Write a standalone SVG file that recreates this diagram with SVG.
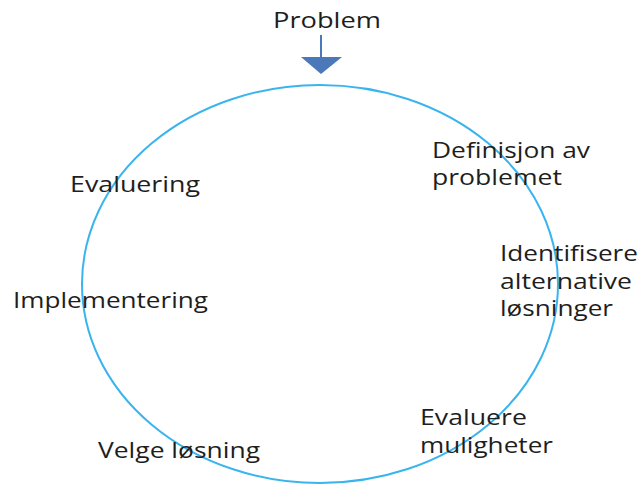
<svg xmlns="http://www.w3.org/2000/svg" width="641" height="487" viewBox="0 0 641 487">
<style>
text{font-family:"Open Sans","Liberation Sans",sans-serif;font-size:21px;fill:#1e1e1e}
.c{fill:none;stroke:#3ab4ee;stroke-width:2}
</style>
<rect width="641" height="487" fill="#fff"/>
<g id="connectors">
<line x1="321" y1="35" x2="321" y2="58" stroke="#4a78b8" stroke-width="2"/>
<polygon points="301,57 342,57 321,74" fill="#4a78b8"/>
</g>
<g id="cycle"><ellipse class="c" cx="320" cy="284" rx="238" ry="199"/></g>
<g id="problem"><text x="273" y="28" textLength="108" lengthAdjust="spacingAndGlyphs">Problem</text></g>
<g id="definisjon"><text x="432" y="158" textLength="158" lengthAdjust="spacingAndGlyphs">Definisjon av</text><text x="432" y="185" textLength="130" lengthAdjust="spacingAndGlyphs">problemet</text></g>
<g id="identifisere"><text x="500" y="261" textLength="138" lengthAdjust="spacingAndGlyphs">Identifisere</text><text x="500" y="289" textLength="132" lengthAdjust="spacingAndGlyphs">alternative</text><text x="500" y="316" textLength="113" lengthAdjust="spacingAndGlyphs">løsninger</text></g>
<g id="evaluere"><text x="420" y="425" textLength="107" lengthAdjust="spacingAndGlyphs">Evaluere</text><text x="420" y="453" textLength="133" lengthAdjust="spacingAndGlyphs">muligheter</text></g>
<g id="velge"><text x="98" y="458" textLength="162" lengthAdjust="spacingAndGlyphs">Velge løsning</text></g>
<g id="implementering"><text x="13" y="308" textLength="195" lengthAdjust="spacingAndGlyphs">Implementering</text></g>
<g id="evaluering"><text x="70" y="192" textLength="130" lengthAdjust="spacingAndGlyphs">Evaluering</text></g>
</svg>
